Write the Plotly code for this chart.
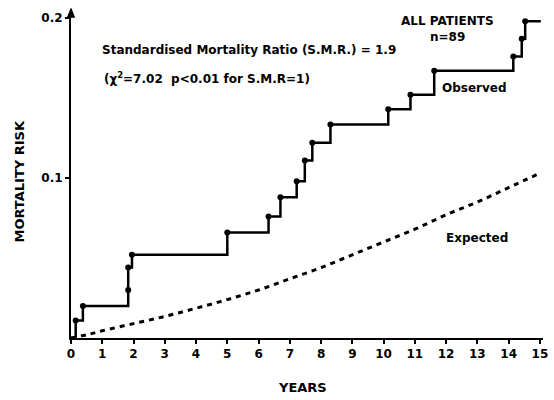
import plotly.graph_objects as go

# Observed step curve (years, mortality risk); markers at each event
obs_years = [0, 0.15, 0.38, 1.83, 1.83, 1.95, 5.0, 6.32, 6.7, 7.22, 7.48, 7.72, 8.3,
             10.15, 10.86, 11.62, 14.15, 14.42, 14.53, 15.03]
obs_risk = [0, 0.011, 0.020, 0.030, 0.044, 0.052, 0.066, 0.076, 0.088, 0.098, 0.111,
            0.122, 0.1335, 0.143, 0.152, 0.167, 0.176, 0.187, 0.198, 0.198]
obs_has_dot = [False] + [True] * 18 + [False]

# Expected curve
exp_years = [0, 0.5, 1, 2, 3, 4, 5, 6, 7, 8, 9, 10, 11, 12, 13, 14, 15]
exp_risk = [0.0, 0.002, 0.0045, 0.009, 0.0135, 0.0186, 0.024, 0.030, 0.037, 0.044,
            0.052, 0.060, 0.068, 0.077, 0.085, 0.094, 0.103]

x_ticks = list(range(0, 16))
y_ticks = [0.1, 0.2]
y_tick_labels = ["0.1", "0.2"]

FONT = "DejaVu Sans"

fig = go.Figure()
fig.add_trace(go.Scatter(
    x=exp_years, y=exp_risk, mode="lines",
    line=dict(color="black", width=3, dash="5px,5px", shape="spline"),
    hoverinfo="skip", cliponaxis=False))
fig.add_trace(go.Scatter(
    x=obs_years, y=obs_risk, mode="lines",
    line=dict(color="black", width=2.5, shape="hv"),
    hoverinfo="skip", cliponaxis=False))
fig.add_trace(go.Scatter(
    x=[x for x, d in zip(obs_years, obs_has_dot) if d],
    y=[y for y, d in zip(obs_risk, obs_has_dot) if d],
    mode="markers", marker=dict(color="black", size=6),
    hoverinfo="skip", cliponaxis=False))

bold = dict(family=FONT, size=12, color="black", weight="bold")
tickf = dict(family=FONT, size=12, color="black", weight="bold")
big = dict(family=FONT, size=13, color="black", weight="bold")

anns = [
    dict(x=12.06, y=0.198, text="ALL PATIENTS", xref="x", yref="y"),
    dict(x=12.06, y=0.188, text="n=89", xref="x", yref="y"),
    dict(x=5.7, y=0.18, text="Standardised Mortality Ratio (S.M.R.) = 1.9", xref="x", yref="y"),
    dict(x=0.98, y=0.1625, text="(χ<sup>2</sup>=7.02  p<0.01 for S.M.R=1)", xref="x", yref="y", xanchor="left"),
    dict(x=12.9, y=0.156, text="Observed", xref="x", yref="y"),
    dict(x=12.98, y=0.0625, text="Expected", xref="x", yref="y"),
]
for a in anns:
    a.setdefault("xanchor", "center")
    fig.add_annotation(showarrow=False, font=bold, yanchor="middle", **a)

fig.add_annotation(text="MORTALITY RISK", xref="paper", yref="paper",
                   x=(18 - 71) / 477, y=(338 - 182) / 324, textangle=-90,
                   showarrow=False, font=big, xanchor="center", yanchor="middle")
fig.add_annotation(text="YEARS", xref="paper", yref="paper",
                   x=(305 - 71) / 477, y=(338 - 387) / 324,
                   showarrow=False, font=big, xanchor="center", yanchor="middle")

# y-axis arrowhead (decoration, paper coordinates)
fig.add_shape(type="path", xref="paper", yref="paper",
              path="M -0.0075 0.990 L 0 1.017 L 0.0075 0.990 Z",
              fillcolor="black", line=dict(color="black", width=1))

fig.update_layout(
    width=554, height=400,
    margin=dict(l=71, r=6, t=14, b=62),
    paper_bgcolor="white", plot_bgcolor="white",
    showlegend=False,
    xaxis=dict(range=[0, 15.1], tickvals=x_ticks, ticks="outside", ticklen=4,
               tickwidth=1.5, tickcolor="black", showline=True, linecolor="black",
               linewidth=2, showgrid=False, zeroline=False, tickfont=tickf),
    yaxis=dict(range=[0, 0.2025], tickvals=y_ticks, ticktext=y_tick_labels,
               ticks="outside", ticklen=4, tickwidth=1.5, tickcolor="black",
               showline=True, linecolor="black", linewidth=2, showgrid=False,
               zeroline=False, tickfont=tickf),
)

fig.write_html("out.html")
